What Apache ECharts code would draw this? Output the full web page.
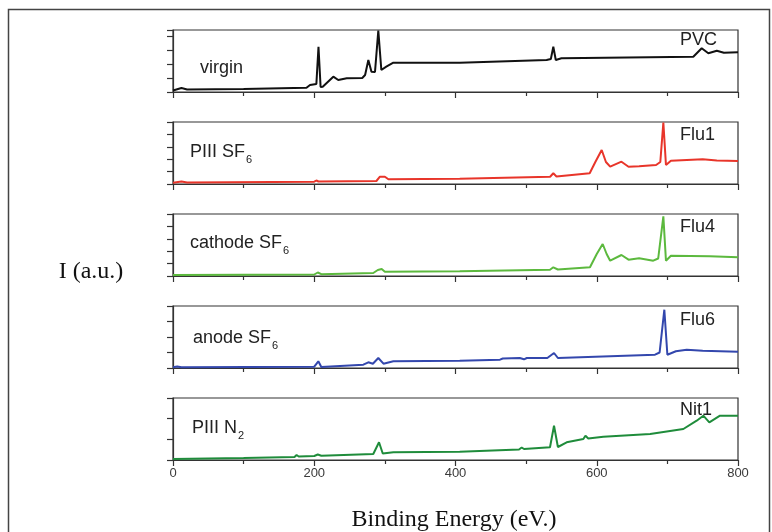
<!DOCTYPE html>
<html>
<head>
<meta charset="utf-8">
<script src="https://cdn.jsdelivr.net/npm/echarts@6/dist/echarts.min.js"></script>
<style>
  html, body { margin: 0; padding: 0; background: #fff; }
  #chart { width: 772px; height: 532px; }
</style>
</head>
<body>
<div id="chart"></div>
<script>
// ---- Data (binding energy in eV, intensity in arbitrary units) ----
const xTicks = [0, 200, 400, 600, 800];

const virginE = [0, 12, 20, 100, 189, 194, 203, 206, 209, 212, 227, 234, 246, 268, 272, 276.6, 281, 286, 290.7, 295, 302, 312, 406, 529, 535, 538.5, 542, 550, 736.7, 748.6, 758, 770, 780, 800];
const virginI = [1.5, 4, 2.5, 3, 4.3, 7, 8, 45.3, 5, 5.3, 15.3, 12, 13.7, 14, 17, 32, 20.3, 20, 61.3, 22, 25.3, 29.3, 29.3, 32, 33, 45.3, 32, 33.7, 35.3, 43.7, 38.7, 41.3, 39.3, 39.7];

const flu1E = [0, 12, 20, 200, 203, 206, 288, 293, 300, 305, 406, 534, 538.5, 543, 590, 598, 607, 613, 619, 635, 645, 660, 684, 690, 694.3, 698, 705, 750, 770, 800];
const flu1I = [1.3, 2.5, 1.5, 2.3, 3.5, 2.5, 3, 7.3, 7.3, 4.7, 5.3, 7.3, 10.7, 7.5, 10.7, 22, 34, 22, 17.3, 22.3, 17.3, 17.7, 19, 22, 61.5, 19, 23.3, 24.7, 23.5, 23];

const flu4E = [0, 200, 205, 210, 283.6, 290, 295.5, 300, 406, 533.8, 538.5, 545, 590.4, 600, 608.4, 614, 619, 635, 645, 660, 680, 687, 694.3, 698, 705, 760, 800];
const flu4I = [1, 1.5, 3.5, 1.8, 3, 6, 7, 4.3, 4.7, 6.3, 8.7, 6.5, 8.7, 22, 32, 22, 15.3, 21, 16.3, 17.7, 15.3, 17.5, 59.7, 15.3, 20.3, 19.7, 18.7];

const flu6E = [0, 6, 12, 200, 205.8, 210, 269.5, 276.6, 283, 290.7, 298, 312, 406, 463, 467, 491, 493, 497, 501, 530, 539.5, 545, 682.5, 689, 695.7, 700, 712, 727.4, 750, 800];
const flu6I = [0.7, 1.5, 0.7, 1.3, 6.7, 1, 3.3, 5.7, 4.3, 10, 4.3, 6.7, 7.3, 8.3, 9.5, 10, 11.6, 8.7, 10, 10, 15, 10, 13.3, 15.5, 58.3, 13.3, 16.7, 18.3, 17.3, 16.3];

const nit1E = [0, 100, 172, 175, 178, 200, 205, 210, 283.6, 291.7, 297, 312, 406, 490, 493.7, 497, 533.8, 539.5, 545, 557.4, 581, 584, 588, 609.3, 675.6, 722.6, 741.5, 750.9, 759.4, 774.5, 800];
const nit1I = [1, 2, 3, 5, 3.5, 4, 5.5, 4.3, 6, 17.7, 6.5, 7.7, 8.3, 10.5, 12.5, 11, 12.7, 34.3, 13, 17.7, 21, 24.3, 21.5, 23.3, 26, 31, 39.3, 44.3, 37.7, 44.3, 44.3];

const sampleLabels = ['virgin', 'PIII SF', 'cathode SF', 'anode SF', 'PIII N'];
const sampleSubs   = ['', '6', '6', '6', '2'];
const codeLabels   = ['PVC', 'Flu1', 'Flu4', 'Flu6', 'Nit1'];

// ---- Layout / style ----
const energies = [virginE, flu1E, flu4E, flu6E, nit1E];
const intens   = [virginI, flu1I, flu4I, flu6I, nit1I];
const colors   = ['#111111', '#e8352a', '#5cb93e', '#3347ad', '#1f8c3b'];
const tops     = [30, 122, 214, 306, 398];
const yMax     = [62, 62, 62, 62, 62];
const yInt     = [14, 12.4, 12.4, 15.5, 62 / 3];
const labelY   = [68, 152, 243, 338, 428];
const codeY    = [40, 135, 227, 320, 410];
const gLeft = 173, gWidth = 565, gHeight = 62;
const axisCol = '#333';

const grids = [], xAxes = [], yAxes = [], series = [];
for (let i = 0; i < 5; i++) {
  grids.push({ left: gLeft, top: tops[i], width: gWidth, height: gHeight,
               show: true, borderColor: axisCol, borderWidth: 1.2, backgroundColor: 'transparent' });
  xAxes.push({
    type: 'value', gridIndex: i, min: 0, max: 800, interval: 200,
    axisLine: { show: true, onZero: false, lineStyle: { color: axisCol, width: 1.2 } },
    axisTick: { show: true, length: 6, lineStyle: { color: axisCol, width: 1.2 } },
    minorTick: { show: true, splitNumber: 2, length: 4, lineStyle: { color: axisCol, width: 1.2 } },
    axisLabel: { show: i === 4, fontSize: 13, color: '#3a3a3a', margin: 7,
                 fontFamily: 'Liberation Sans, Arial, sans-serif',
                 formatter: v => (xTicks.indexOf(v) >= 0 ? String(v) : '') },
    splitLine: { show: false }
  });
  yAxes.push({
    type: 'value', gridIndex: i, min: 0, max: yMax[i], interval: yInt[i],
    axisLine: { show: true, lineStyle: { color: axisCol, width: 1.2 } },
    axisTick: { show: true, length: 6, lineStyle: { color: axisCol, width: 1.2 } },
    axisLabel: { show: false },
    splitLine: { show: false }
  });
  series.push({
    type: 'line', xAxisIndex: i, yAxisIndex: i, showSymbol: false, symbol: 'none',
    animation: false, clip: true,
    lineStyle: { color: colors[i], width: 2 },
    data: energies[i].map((e, k) => [e, intens[i][k]])
  });
}

// ---- Text elements ----
const fontFam = "'Liberation Sans', Arial, sans-serif";
const labelFont = '18px ' + fontFam;
const cnv = document.createElement('canvas').getContext('2d');
cnv.font = labelFont;
const labelX = [200, 190, 190, 193, 192];
const serifFont = "24px 'Liberation Serif', 'Times New Roman', serif";

const graphics = [
  { type: 'rect', shape: { x: 8.5, y: 9.5, width: 761, height: 600 },
    style: { fill: 'none', stroke: '#444', lineWidth: 1.5 }, z: 0 }
];
for (let i = 0; i < 5; i++) {
  graphics.push({ type: 'text', x: labelX[i], y: labelY[i], z: 10,
    style: { text: sampleLabels[i], font: labelFont, fill: '#222', textVerticalAlign: 'middle' } });
  if (sampleSubs[i]) {
    const w = cnv.measureText(sampleLabels[i]).width;
    graphics.push({ type: 'text', x: labelX[i] + w + 1, y: labelY[i] + 8, z: 10,
      style: { text: sampleSubs[i], font: '11px ' + fontFam, fill: '#222', textVerticalAlign: 'middle' } });
  }
  graphics.push({ type: 'text', x: 680, y: codeY[i], z: 10,
    style: { text: codeLabels[i], font: labelFont, fill: '#222', textVerticalAlign: 'middle' } });
}
graphics.push({ type: 'text', x: 91, y: 272, z: 10,
  style: { text: 'I (a.u.)', font: serifFont, fill: '#111',
           textAlign: 'center', textVerticalAlign: 'middle' } });
graphics.push({ type: 'text', x: 454, y: 520, z: 10,
  style: { text: 'Binding Energy (eV.)', font: serifFont, fill: '#111',
           textAlign: 'center', textVerticalAlign: 'middle' } });

const chart = echarts.init(document.getElementById('chart'), null, { renderer: 'canvas' });
chart.setOption({
  animation: false,
  backgroundColor: '#fff',
  grid: grids, xAxis: xAxes, yAxis: yAxes, series: series,
  graphic: graphics
});
</script>
</body>
</html>
